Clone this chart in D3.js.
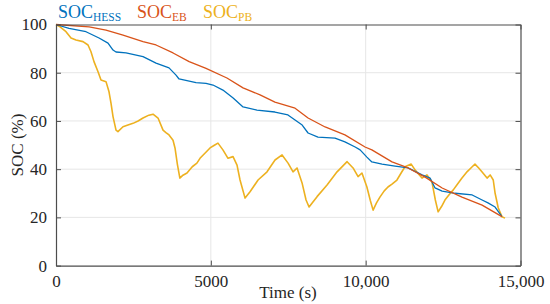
<!DOCTYPE html>
<html>
<head>
<meta charset="utf-8">
<script src="https://cdn.jsdelivr.net/npm/d3@7"></script>
<style>
  body { margin: 0; background: #fff; }
  svg text { font-family: "Liberation Serif", "DejaVu Serif", serif; fill: #262626; }
</style>
</head>
<body>
<svg id="chart" width="550" height="304"></svg>
<script>
// time (s) / SOC (%)
var hessT = [0, 420, 969, 1389, 1680, 1841, 1938, 2261, 2810, 3230, 3650, 3876, 3973, 4522, 4845, 5070, 5390, 5720, 6040, 6490, 7070, 7490, 7720, 7950, 8140, 8460, 9010, 9330, 9660, 9820, 10040, 10200, 10530, 10950, 11370, 11820, 12080, 12240, 12470, 12890, 13440, 13760, 13950, 14180, 14400];
var hessV = [100, 98.4, 97, 94.4, 92.3, 89.4, 88.6, 88.2, 86.7, 84, 82, 79, 77.4, 75.9, 75.6, 74.9, 72.8, 69.5, 65.8, 64.5, 63.7, 62.5, 60.4, 58.3, 55, 53.3, 52.9, 51.3, 49.2, 48, 45, 43, 42.1, 41.3, 40.5, 37.6, 36.3, 32.2, 30.9, 30, 29.3, 27.2, 26, 24.3, 20.3];

var ebT = [0, 1070, 1615, 2165, 2810, 3230, 3780, 4300, 4845, 5520, 6040, 6590, 7070, 7720, 8140, 8690, 9330, 9980, 10200, 10850, 11370, 11920, 12470, 13110, 13760, 14400];
var ebV = [100, 99, 97.7, 95.6, 92.9, 91.5, 88.2, 84.6, 81.8, 77.8, 73.7, 70.8, 67.8, 65.3, 61.2, 57.5, 54.2, 49.2, 48, 43, 40.5, 36.7, 32.2, 28.4, 25.1, 20.3];

var pbT = [0, 100, 323, 485, 646, 872, 1034, 1130, 1227, 1357, 1453, 1615, 1712, 1776, 1841, 1938, 2000, 2164, 2300, 2487, 2650, 2810, 3000, 3133, 3295, 3456, 3550, 3650, 3779, 3843, 3920, 4000, 4100, 4230, 4400, 4550, 4650, 4800, 4974, 5100, 5230, 5390, 5555, 5717, 5846, 5943, 6105, 6266, 6525, 6815, 7073, 7300, 7494, 7655, 7784, 7946, 8075, 8172, 8430, 8753, 9076, 9400, 9593, 9755, 9880, 10040, 10150, 10240, 10350, 10460, 10600, 10720, 10850, 11010, 11150, 11270, 11470, 11600, 11820, 11980, 12140, 12250, 12340, 12450, 12560, 12700, 12830, 12950, 13110, 13280, 13440, 13530, 13650, 13760, 13920, 14020, 14120, 14180, 14280, 14400, 14500];
var pbV = [100, 99.3, 97, 94.4, 93.6, 92.9, 91.5, 88.7, 84.6, 80.4, 77, 76.3, 72.1, 67.4, 61.8, 56.2, 55.6, 57.6, 58.2, 59, 60, 61.2, 62.4, 62.8, 61.2, 56.2, 55.2, 54.2, 52, 48.8, 42, 36.3, 37.5, 38.4, 41, 42.5, 44.5, 46.5, 48.8, 49.8, 50.8, 48, 44.5, 45.2, 41.7, 35.5, 28, 30.6, 35.5, 38.9, 43.8, 45.9, 42.5, 38.9, 40.5, 34.3, 27.2, 24.3, 28.6, 33.4, 38.9, 43.1, 40.5, 36.9, 38.4, 32.6, 27, 23, 26, 28.4, 31, 32.6, 33.8, 35.5, 38.5, 41, 42.1, 39.6, 36.3, 37.6, 34.7, 27.2, 22.3, 24.5, 27.2, 29.5, 31.4, 33.5, 36.3, 39, 41, 42.1, 40.5, 38.8, 36.3, 37.6, 35.5, 30, 24, 20.3, 19.7];

var xTicks = [0, 5000, 10000, 15000];
var yTicks = [0, 20, 40, 60, 80, 100];
var seriesNames = ["HESS", "EB", "PB"];
var colors = ["#0072BD", "#D95319", "#EDB120"];

var svg = d3.select("#chart");
var x = d3.scaleLinear().domain([0, 15000]).range([56, 520.5]);
var y = d3.scaleLinear().domain([0, 100]).range([265.6, 24.5]);

function fmtX(d) { return d >= 10000 ? d3.format(",")(d) : String(d); }

// grid
svg.append("g").selectAll("line").data(xTicks.slice(1, -1)).enter().append("line")
  .attr("x1", function(d){ return x(d); }).attr("x2", function(d){ return x(d); })
  .attr("y1", y(0)).attr("y2", y(100))
  .attr("stroke", "#e6e6e6").attr("stroke-width", 1);
svg.append("g").selectAll("line").data(yTicks.slice(1, -1)).enter().append("line")
  .attr("x1", x(0)).attr("x2", x(15000))
  .attr("y1", function(d){ return y(d); }).attr("y2", function(d){ return y(d); })
  .attr("stroke", "#e6e6e6").attr("stroke-width", 1);

// lines
var data = [
  d3.zip(hessT, hessV),
  d3.zip(ebT, ebV),
  d3.zip(pbT, pbV)
];
var line = d3.line().x(function(d){ return x(d[0]); }).y(function(d){ return y(d[1]); });
svg.append("g").selectAll("path").data([data[2], data[0], data[1]]).enter().append("path")
  .attr("d", line)
  .attr("fill", "none")
  .attr("stroke", function(d, i){ return [colors[2], colors[0], colors[1]][i]; })
  .attr("stroke-width", function(d, i){ return i == 0 ? 1.6 : 1.3; })
  .attr("stroke-linejoin", "round");

// axes (ticks inward, box on)
var axBottom = svg.append("g").attr("transform", "translate(0," + y(0) + ")")
  .call(d3.axisBottom(x).tickValues(xTicks).tickSizeInner(-5).tickSizeOuter(0).tickPadding(9).tickFormat(fmtX));
var axTop = svg.append("g").attr("transform", "translate(0," + y(100) + ")")
  .call(d3.axisTop(x).tickValues(xTicks).tickSizeInner(-5).tickSizeOuter(0).tickFormat(""));
var axLeft = svg.append("g").attr("transform", "translate(" + x(0) + ",0)")
  .call(d3.axisLeft(y).tickValues(yTicks).tickSizeInner(-5).tickSizeOuter(0).tickPadding(9));
var axRight = svg.append("g").attr("transform", "translate(" + x(15000) + ",0)")
  .call(d3.axisRight(y).tickValues(yTicks).tickSizeInner(-5).tickSizeOuter(0).tickFormat(""));
[axBottom, axTop, axLeft, axRight].forEach(function(g){
  g.select(".domain").attr("stroke", "#4d4d4d").attr("stroke-width", 1.2);
  g.selectAll(".tick line").attr("stroke", "#4d4d4d");
  g.selectAll("text").attr("font-size", 17).attr("fill", "#262626");
});

// axis titles
svg.append("text").attr("x", 288).attr("y", 298).attr("text-anchor", "middle")
  .attr("font-size", 17).text("Time (s)");
svg.append("text").attr("transform", "translate(23,145) rotate(-90)").attr("text-anchor", "middle")
  .attr("font-size", 17).text("SOC (%)");

// legend
var legX = [58, 137, 203];
seriesNames.forEach(function(n, i){
  var t = svg.append("text").attr("x", legX[i]).attr("y", 18).attr("font-size", 18)
    .style("fill", colors[i]);
  t.append("tspan").text("SOC");
  t.append("tspan").attr("font-size", 11.5).attr("dy", 3).text(n);
});
</script>
</body>
</html>
